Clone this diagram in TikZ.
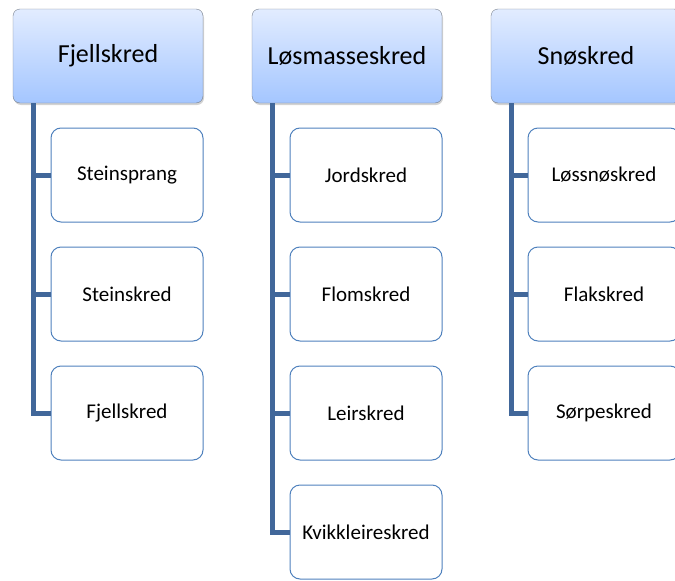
\documentclass[tikz,border=0pt]{standalone}
\usepackage{fontspec}
\setmainfont{Carlito}
\usetikzlibrary{shadows}

\definecolor{headtop}{RGB}{226,236,255}
\definecolor{headbot}{RGB}{164,198,255}
\definecolor{headline}{RGB}{120,128,140}
\definecolor{boxline}{RGB}{79,129,189}
\definecolor{connblue}{RGB}{65,103,154}

\tikzset{
  head/.style={draw=headline,rounded corners=7pt,top color=headtop,bottom color=headbot,
    minimum width=190pt,minimum height=94pt,inner sep=0pt,font=\fontsize{26}{30}\selectfont,
    drop shadow={opacity=0.35,shadow xshift=1pt,shadow yshift=-2pt}},
  item/.style={draw=boxline,line width=1pt,rounded corners=10pt,fill=white,
    minimum width=152pt,minimum height=94pt,inner sep=0pt,font=\fontsize{21}{25}\selectfont},
  conn/.style={connblue,line width=5pt,line join=miter}
}

\begin{document}
\begin{tikzpicture}[x=1pt,y=-1pt]
  \useasboundingbox (0,0) rectangle (675,581);
  \clip (0,0) rectangle (675,581);

  % Fjellskred
  \node[head] (h1) at (108,56) {Fjellskred};
  \node[item] (c11) at (127,175) {Steinsprang};
  \node[item] (c12) at (127,294) {Steinskred};
  \node[item] (c13) at (127,413) {Fjellskred};
  \coordinate (t1) at (33,103);
  \draw[conn] (t1) |- (c13.west);
  \draw[conn] (c11.west -| t1) -- (c11.west);
  \draw[conn] (c12.west -| t1) -- (c12.west);

  % Løsmasseskred
  \node[head] (h2) at (347,56) {Løsmasseskred};
  \node[item] (c21) at (366,175) {Jordskred};
  \node[item] (c22) at (366,294) {Flomskred};
  \node[item] (c23) at (366,413) {Leirskred};
  \node[item] (c24) at (366,532) {Kvikkleireskred};
  \coordinate (t2) at (272,103);
  \draw[conn] (t2) |- (c24.west);
  \draw[conn] (c21.west -| t2) -- (c21.west);
  \draw[conn] (c22.west -| t2) -- (c22.west);
  \draw[conn] (c23.west -| t2) -- (c23.west);

  % Snøskred
  \node[head] (h3) at (586,56) {Snøskred};
  \node[item] (c31) at (604,175) {Løssnøskred};
  \node[item] (c32) at (604,294) {Flakskred};
  \node[item] (c33) at (604,413) {Sørpeskred};
  \coordinate (t3) at (511,103);
  \draw[conn] (t3) |- (c33.west);
  \draw[conn] (c31.west -| t3) -- (c31.west);
  \draw[conn] (c32.west -| t3) -- (c32.west);
\end{tikzpicture}
\end{document}
